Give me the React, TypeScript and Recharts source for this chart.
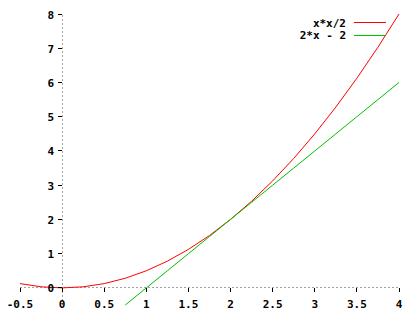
import React from 'react';
import { LineChart, Line, XAxis, YAxis, ReferenceLine, ReferenceDot } from 'recharts';

const xs = [-0.5, -0.25, 0, 0.25, 0.5, 0.75, 1, 1.25, 1.5, 1.75, 2, 2.25, 2.5, 2.75, 3, 3.25, 3.5, 3.75, 4];
const redVals = [0.125, 0.031, 0, 0.031, 0.125, 0.281, 0.5, 0.781, 1.125, 1.531, 2, 2.531, 3.125, 3.781, 4.5, 5.281, 6.125, 7.031, 8];
const greenVals: (number | null)[] = [null, null, null, null, null, -0.5, 0, 0.5, 1, 1.5, 2, 2.5, 3, 3.5, 4, 4.5, 5, 5.5, 6];
const xTicks = [-0.5, 0, 0.5, 1, 1.5, 2, 2.5, 3, 3.5, 4];
const yTicks = [0, 1, 2, 3, 4, 5, 6, 7, 8];
const seriesNames = ['x*x/2', '2*x - 2'];
const seriesColors = ['#ff0000', '#00c000'];

const data = xs.map((x, i) => ({ x, red: redVals[i], green: greenVals[i] }));

const FONT = '"DejaVu Sans Mono", "Liberation Mono", monospace';

const XTickShape = (label: string) => (props: any) => {
  const { cx, cy } = props;
  return (
    <g>
      <line x1={cx} y1={cy} x2={cx} y2={cy + 4} stroke="#000" strokeWidth={1} shapeRendering="crispEdges" />
      <text x={cx} y={cy + 20.5} textAnchor="middle" fontFamily={FONT} fontWeight="bold" fontSize={11} fill="#000">{label}</text>
    </g>
  );
};

const YTickShape = (label: string) => (props: any) => {
  const { cx, cy } = props;
  return (
    <g>
      <line x1={cx - 4} y1={cy} x2={cx} y2={cy} stroke="#000" strokeWidth={1} shapeRendering="crispEdges" />
      <text x={cx - 8} y={cy + 4.5} textAnchor="end" fontFamily={FONT} fontWeight="bold" fontSize={11} fill="#000">{label}</text>
    </g>
  );
};

const LegendBox = () => (
  <svg width={420} height={50} style={{ position: 'absolute', left: 0, top: 0, display: 'block' }}>
    {seriesNames.map((name, i) => {
      const y = 22.5 + i * 12.5;
      return (
        <g key={name}>
          <text x={346} y={y + 4} textAnchor="end" fontFamily={FONT} fontWeight="bold" fontSize={11} fill="#000">{name}</text>
          <line x1={354} y1={y} x2={386} y2={y} stroke={seriesColors[i]} strokeWidth={1} shapeRendering="crispEdges" />
        </g>
      );
    })}
  </svg>
);

export default function App() {
  return (
    <div style={{ position: 'absolute', left: 0, top: 0, width: 420, height: 320, background: '#fff' }}>
      <LineChart width={420} height={320} data={data} margin={{ top: 14, right: 21, bottom: 15, left: 20 }}>
        <XAxis dataKey="x" type="number" domain={[-0.5, 4]} hide />
        <YAxis type="number" domain={[-0.5, 8]} hide />
        <ReferenceLine y={0} stroke="#a0a0a0" strokeDasharray="2 2" shapeRendering="crispEdges" />
        <ReferenceLine x={0} stroke="#a0a0a0" strokeDasharray="2 2" shapeRendering="crispEdges" />
        {xTicks.map((t) => (
          <ReferenceDot key={'x' + t} x={t} y={0} r={0} shape={XTickShape(String(t))} />
        ))}
        {yTicks.map((t) => (
          <ReferenceDot key={'y' + t} x={0} y={t} r={0} shape={YTickShape(String(t))} />
        ))}
        <Line dataKey="red" name={seriesNames[0]} stroke={seriesColors[0]} strokeWidth={1} dot={false} type="linear" isAnimationActive={false} />
        <Line dataKey="green" name={seriesNames[1]} stroke={seriesColors[1]} strokeWidth={1} dot={false} type="linear" isAnimationActive={false} />
      </LineChart>
      <LegendBox />
    </div>
  );
}
